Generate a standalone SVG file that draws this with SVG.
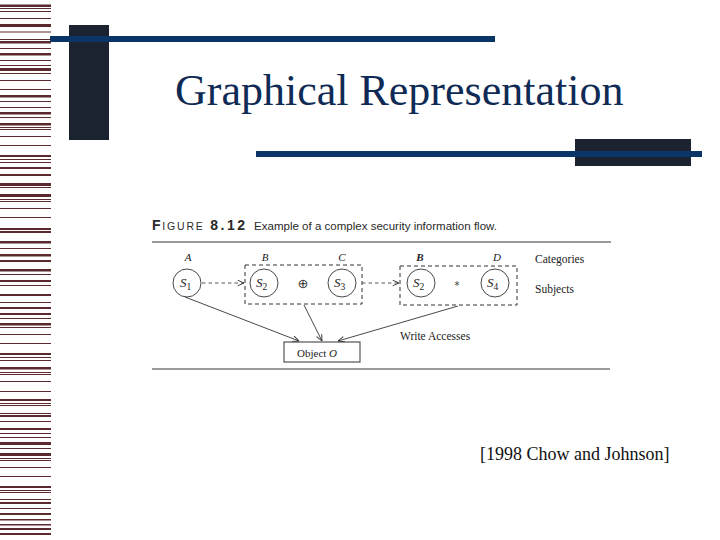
<svg xmlns="http://www.w3.org/2000/svg" width="720" height="540" viewBox="0 0 720 540">
<style>
.st{fill:#5a2a2e}
.ser{font-family:"Liberation Serif","Times New Roman",serif;fill:#222}
.it{font-style:italic}
.san{font-family:"Liberation Sans",Arial,sans-serif;fill:#2a2a2a}
.circ{fill:none;stroke:#333;stroke-width:0.9}
.dbox{fill:none;stroke:#333;stroke-width:1;stroke-dasharray:4 3}
.dash{fill:none;stroke:#444;stroke-width:0.9;stroke-dasharray:3.5 3}
.sol{fill:none;stroke:#333;stroke-width:0.9}
.rule{stroke:#9a9a9a;stroke-width:2.2}
</style>
<defs>
<marker id="ah" viewBox="0 0 10 10" refX="10" refY="5" markerWidth="7" markerHeight="7" orient="auto" markerUnits="userSpaceOnUse">
<path d="M1,1 L10,5 L1,9" fill="none" stroke="#333" stroke-width="1.3"/>
</marker>
</defs>
<rect width="720" height="540" fill="#ffffff"/>
<g id="stripes">
<rect class="st" x="0" y="4.5" width="51" height="2.5"/><rect class="st" x="0" y="8" width="51" height="1"/><rect class="st" x="0" y="11" width="51" height="1"/><rect class="st" x="0" y="18" width="51" height="1"/><rect class="st" x="0" y="24" width="51" height="3"/><rect class="st" x="0" y="31.5" width="51" height="1"/><rect class="st" x="0" y="39" width="51" height="1"/><rect class="st" x="0" y="41" width="51" height="2.5"/><rect class="st" x="0" y="48" width="51" height="1"/><rect class="st" x="0" y="53" width="51" height="2.5"/><rect class="st" x="0" y="60" width="51" height="1"/><rect class="st" x="0" y="65" width="51" height="1"/><rect class="st" x="0" y="68" width="51" height="3"/><rect class="st" x="0" y="73" width="51" height="1"/><rect class="st" x="0" y="80" width="51" height="1"/><rect class="st" x="0" y="89" width="51" height="1"/><rect class="st" x="0" y="95" width="51" height="2.5"/><rect class="st" x="0" y="101" width="51" height="1"/><rect class="st" x="0" y="107" width="51" height="1"/><rect class="st" x="0" y="112" width="51" height="2.5"/><rect class="st" x="0" y="117" width="51" height="1"/><rect class="st" x="0" y="123" width="51" height="2.5"/><rect class="st" x="0" y="127" width="51" height="1"/><rect class="st" x="0" y="129" width="51" height="1"/><rect class="st" x="0" y="136" width="51" height="1"/><rect class="st" x="0" y="145" width="51" height="1"/><rect class="st" x="0" y="155" width="51" height="2"/><rect class="st" x="0" y="159" width="51" height="1"/><rect class="st" x="0" y="162" width="51" height="1"/><rect class="st" x="0" y="167" width="51" height="2"/><rect class="st" x="0" y="174" width="51" height="2"/>
<rect class="st" x="0" y="183" width="51" height="3"/><rect class="st" x="0" y="187" width="51" height="1"/><rect class="st" x="0" y="194" width="51" height="3"/><rect class="st" x="0" y="199" width="51" height="1"/><rect class="st" x="0" y="201" width="51" height="1"/><rect class="st" x="0" y="208" width="51" height="1"/><rect class="st" x="0" y="217" width="51" height="1"/><rect class="st" x="0" y="228" width="51" height="2"/><rect class="st" x="0" y="231" width="51" height="2"/><rect class="st" x="0" y="241" width="51" height="2.5"/><rect class="st" x="0" y="248" width="51" height="1"/><rect class="st" x="0" y="254" width="51" height="2.5"/><rect class="st" x="0" y="260" width="51" height="2"/><rect class="st" x="0" y="269" width="51" height="2.5"/><rect class="st" x="0" y="274" width="51" height="1"/><rect class="st" x="0" y="280" width="51" height="2"/><rect class="st" x="0" y="285" width="51" height="1"/><rect class="st" x="0" y="294" width="51" height="2"/><rect class="st" x="0" y="302" width="51" height="1"/><rect class="st" x="0" y="307" width="51" height="2"/><rect class="st" x="0" y="313" width="51" height="2"/><rect class="st" x="0" y="318" width="51" height="1"/><rect class="st" x="0" y="323" width="51" height="2.5"/><rect class="st" x="0" y="327" width="51" height="1"/><rect class="st" x="0" y="334" width="51" height="1"/><rect class="st" x="0" y="343" width="51" height="1"/><rect class="st" x="0" y="353" width="51" height="2"/><rect class="st" x="0" y="357" width="51" height="1"/>
<rect class="st" x="0" y="360" width="51" height="1"/><rect class="st" x="0" y="367" width="51" height="2.5"/><rect class="st" x="0" y="372" width="51" height="1"/><rect class="st" x="0" y="374" width="51" height="1"/><rect class="st" x="0" y="381" width="51" height="1"/><rect class="st" x="0" y="391" width="51" height="1"/><rect class="st" x="0" y="399" width="51" height="2"/><rect class="st" x="0" y="403" width="51" height="1"/><rect class="st" x="0" y="405" width="51" height="1"/><rect class="st" x="0" y="413" width="51" height="1"/><rect class="st" x="0" y="415" width="51" height="2"/><rect class="st" x="0" y="421" width="51" height="1"/><rect class="st" x="0" y="428" width="51" height="2"/><rect class="st" x="0" y="433" width="51" height="1"/><rect class="st" x="0" y="437" width="51" height="1"/><rect class="st" x="0" y="442" width="51" height="3"/><rect class="st" x="0" y="448" width="51" height="1"/><rect class="st" x="0" y="453" width="51" height="3"/><rect class="st" x="0" y="458" width="51" height="1"/><rect class="st" x="0" y="460" width="51" height="1"/><rect class="st" x="0" y="467" width="51" height="1"/><rect class="st" x="0" y="476" width="51" height="1"/><rect class="st" x="0" y="486" width="51" height="2"/><rect class="st" x="0" y="490" width="51" height="1"/><rect class="st" x="0" y="492" width="51" height="1"/><rect class="st" x="0" y="499" width="51" height="1"/><rect class="st" x="0" y="502" width="51" height="2"/><rect class="st" x="0" y="508" width="51" height="1"/><rect class="st" x="0" y="513" width="51" height="2"/><rect class="st" x="0" y="519" width="51" height="1.5"/><rect class="st" x="0" y="524" width="51" height="1.5"/><rect class="st" x="0" y="528" width="51" height="2"/><rect class="st" x="0" y="533" width="51" height="2"/>
</g>
<g id="decor">
<rect x="69" y="25" width="40" height="115" fill="#1c2330"/>
<rect x="50" y="36" width="445" height="6" fill="#0b3566"/>
<rect x="575" y="139" width="116" height="27" fill="#1c2330"/>
<rect x="256" y="151" width="446" height="6" fill="#0b3566"/>
</g>
<text id="title" x="175" y="105" font-family="'Liberation Serif','Times New Roman',serif" font-size="44" fill="#0f2a55">Graphical Representation</text>
<g id="caption">
<text x="152" y="230" font-family="'Liberation Sans',Arial,sans-serif" fill="#2a2a2a" font-size="14" letter-spacing="1.8"><tspan font-weight="bold">F</tspan><tspan font-size="10.5">IGURE</tspan> <tspan font-weight="bold" letter-spacing="2.5">8.12</tspan></text>
<text class="san" x="254" y="230" font-size="11.5" textLength="243" lengthAdjust="spacingAndGlyphs">Example of a complex security information flow.</text>
<line class="rule" x1="152" y1="242" x2="611" y2="242"/>
<line class="rule" x1="152" y1="369" x2="610" y2="369"/>
</g>
<g id="labels" class="ser it" font-size="11">
<text x="188" y="261" text-anchor="middle">A</text>
<text x="265" y="261" text-anchor="middle">B</text>
<text x="342" y="261" text-anchor="middle">C</text>
<text x="420" y="261" text-anchor="middle" font-weight="bold">B</text>
<text x="497" y="261" text-anchor="middle">D</text>
</g>
<g id="legend" class="ser" font-size="11.5">
<text x="535" y="263">Categories</text>
<text x="535" y="293">Subjects</text>
<text x="400" y="340">Write  Accesses</text>
</g>
<g id="box1">
<rect class="dbox" x="245" y="265" width="117" height="39"/>
<text x="303" y="288" text-anchor="middle" font-family="'DejaVu Sans',sans-serif" font-size="13" fill="#333">⊕</text>
</g>
<g id="box2">
<rect class="dbox" x="400" y="266" width="117" height="39"/>
<text x="457" y="289" text-anchor="middle" font-family="'DejaVu Sans',sans-serif" font-size="10" fill="#333">*</text>
</g>
<g id="s1">
<circle class="circ" cx="187" cy="283" r="14"/>
<text class="ser it" x="180" y="287" font-size="13">S<tspan font-style="normal" font-size="9.5" dy="2.5">1</tspan></text>
</g>
<g id="s2a">
<circle class="circ" cx="264" cy="283" r="14"/>
<text class="ser it" x="256" y="287" font-size="13">S<tspan font-style="normal" font-size="9.5" dy="2.5">2</tspan></text>
</g>
<g id="s3">
<circle class="circ" cx="342" cy="283" r="14"/>
<text class="ser it" x="334" y="287" font-size="13">S<tspan font-style="normal" font-size="9.5" dy="2.5">3</tspan></text>
</g>
<g id="s2b">
<circle class="circ" cx="421" cy="283" r="14"/>
<text class="ser it" x="413" y="287" font-size="13">S<tspan font-style="normal" font-size="9.5" dy="2.5">2</tspan></text>
</g>
<g id="s4">
<circle class="circ" cx="495" cy="283" r="14"/>
<text class="ser it" x="487" y="287" font-size="13">S<tspan font-style="normal" font-size="9.5" dy="2.5">4</tspan></text>
</g>
<g id="object">
<rect x="284" y="342" width="76" height="20" fill="#fff" stroke="#333" stroke-width="1"/>
<text class="ser" x="297" y="357" font-size="11">Object <tspan font-style="italic">O</tspan></text>
</g>
<g id="connectors">
<line class="dash" x1="202" y1="283" x2="244" y2="283" marker-end="url(#ah)"/>
<line class="dash" x1="362" y1="283" x2="399" y2="283" marker-end="url(#ah)"/>
<line class="sol" x1="185" y1="297" x2="299" y2="341" marker-end="url(#ah)"/>
<line class="sol" x1="304" y1="305" x2="322" y2="341" marker-end="url(#ah)"/>
<line class="sol" x1="458" y1="306" x2="338" y2="341" marker-end="url(#ah)"/>
</g>
<text id="cite" x="480" y="460" font-family="'Liberation Serif','Times New Roman',serif" font-size="18" fill="#111">[1998 Chow and Johnson]</text>
</svg>
